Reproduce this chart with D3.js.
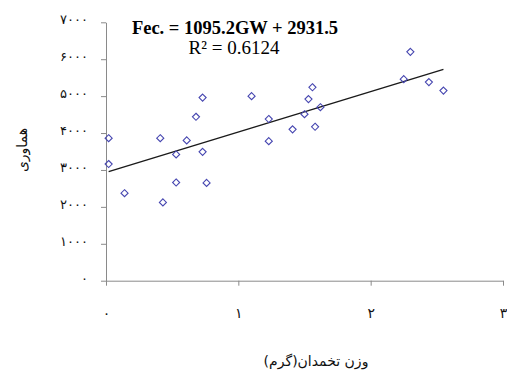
<!DOCTYPE html>
<html>
<head>
<meta charset="utf-8">
<script src="https://cdn.jsdelivr.net/npm/d3@7"></script>
<style>
  html, body { margin: 0; padding: 0; background: #fff; }
  svg { display: block; }
</style>
</head>
<body>
<svg id="chart" width="507" height="379"></svg>
<script>
// Ovary weight (g) against fecundity, with the fitted linear trend
const ovaryWeight = [0.02, 0.02, 0.14, 0.41, 0.43, 0.53, 0.53, 0.61, 0.68, 0.73, 0.73, 0.76,
                     1.10, 1.23, 1.23, 1.41, 1.50, 1.53, 1.56, 1.58, 1.62,
                     2.25, 2.30, 2.44, 2.55];
const fecundity   = [3860, 3160, 2370, 3860, 2120, 3420, 2660, 3800, 4440, 4960, 3490, 2650,
                     5000, 4380, 3780, 4100, 4510, 4920, 5240, 4170, 4700,
                     5460, 6200, 5380, 5150];
const xTicks = [0, 1, 2, 3];
const yTicks = [0, 1000, 2000, 3000, 4000, 5000, 6000, 7000];
const slope = 1095.2;
const intercept = 2931.5;
const equationLines = ["Fec. = 1095.2GW + 2931.5", "R\u00B2 = 0.6124"];
const xTitle = "وزن تخمدان(گرم)";
const yTitle = "هماوری";

const persian = n => String(n).replace(/\d/g, d => "۰۱۲۳۴۵۶۷۸۹"[d]);

const svg = d3.select("#chart");
const x = d3.scaleLinear().domain([0, 3]).range([106, 503]);
const y = d3.scaleLinear().domain([0, 7000]).range([280.7, 22.3]);

const axisColor = "#8a8a8a";

// y axis
const gy = svg.append("g")
  .attr("transform", `translate(${x(0)},0)`)
  .call(d3.axisLeft(y).tickValues(yTicks).tickSize(5).tickSizeOuter(0).tickFormat(persian));
gy.select(".domain").attr("stroke", axisColor);
gy.selectAll(".tick line").attr("stroke", axisColor);
gy.selectAll(".tick text")
  .attr("x", -18).attr("dy", "0.1em")
  .attr("font-family", "DejaVu Sans").attr("font-size", 13).attr("fill", "#111");

// x axis
const gx = svg.append("g")
  .attr("transform", `translate(0,${y(0)})`)
  .call(d3.axisBottom(x).tickValues(xTicks).tickSize(5).tickSizeOuter(0).tickFormat(persian));
gx.select(".domain").attr("stroke", axisColor);
gx.selectAll(".tick line").attr("stroke", axisColor);
gx.selectAll(".tick text")
  .attr("y", 37).attr("dy", 0)
  .attr("font-family", "DejaVu Sans").attr("font-size", 14).attr("fill", "#111");

// linear trend line across the observed weight range
const [xMin, xMax] = d3.extent(ovaryWeight);
svg.append("line")
  .attr("x1", x(xMin)).attr("y1", y(slope * xMin + intercept))
  .attr("x2", x(xMax)).attr("y2", y(slope * xMax + intercept))
  .attr("stroke", "#1a1a1a").attr("stroke-width", 1.4);

// observations as open diamonds
const diamond = d3.symbol().type(d3.symbolDiamond2).size(32);
svg.append("g").selectAll("path")
  .data(d3.zip(ovaryWeight, fecundity))
  .join("path")
  .attr("d", diamond)
  .attr("transform", d => `translate(${x(d[0])},${y(d[1])})`)
  .attr("fill", "none")
  .attr("stroke", "#4646b0")
  .attr("stroke-width", 1.1);

// regression equation
const eq = svg.append("text")
  .attr("font-family", "Liberation Serif")
  .attr("text-anchor", "middle")
  .attr("fill", "#000");
eq.append("tspan").attr("x", 235).attr("y", 34)
  .attr("font-size", 18.5).attr("font-weight", "bold").text(equationLines[0]);
eq.append("tspan").attr("x", 234).attr("y", 54)
  .attr("font-size", 19).text(equationLines[1]);

// axis titles
svg.append("text")
  .attr("transform", "translate(27,150) rotate(-90)")
  .attr("direction", "rtl")
  .attr("text-anchor", "middle")
  .attr("font-family", "DejaVu Sans").attr("font-size", 14).attr("fill", "#111")
  .text(yTitle);

svg.append("text")
  .attr("x", 316).attr("y", 366)
  .attr("direction", "rtl")
  .attr("text-anchor", "middle")
  .attr("font-family", "DejaVu Sans").attr("font-size", 14).attr("fill", "#111")
  .text(xTitle);
</script>
</body>
</html>
